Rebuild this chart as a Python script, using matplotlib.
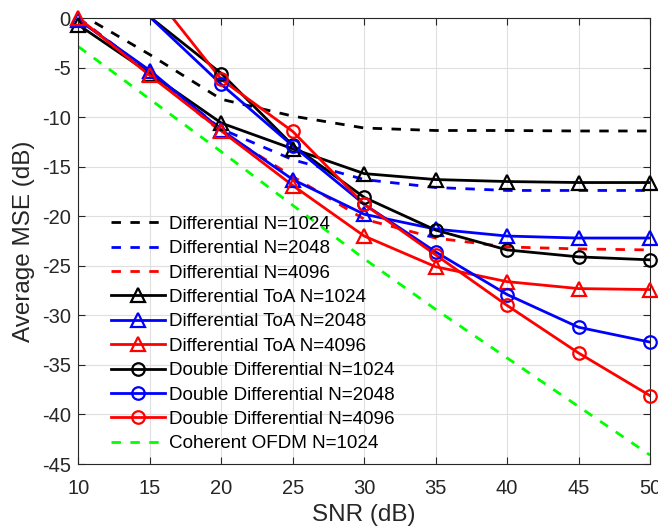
import numpy as np
import matplotlib
matplotlib.use("Agg")
import matplotlib.pyplot as plt

plt.rcParams['font.family'] = ['Liberation Sans', 'DejaVu Sans']
plt.rcParams['axes.unicode_minus'] = False

snr = [10, 15, 20, 25, 30, 35, 40, 45, 50]

diff_1024 = [0.5, -3.7, -8.2, -9.9, -11.1, -11.35, -11.35, -11.4, -11.4]
diff_2048 = [0.0, -5.5, -11.2, -14.3, -16.3, -17.1, -17.4, -17.4, -17.4]
diff_4096 = [0.0, -5.6, -11.5, -16.0, -20.3, -22.2, -23.1, -23.3, -23.4]

toa_1024 = [-0.7, -5.6, -10.6, -13.2, -15.7, -16.3, -16.5, -16.6, -16.6]
toa_2048 = [-0.2, -5.3, -11.3, -16.3, -19.8, -21.3, -22.0, -22.2, -22.2]
toa_4096 = [0.0, -5.8, -11.4, -16.9, -22.0, -25.1, -26.6, -27.3, -27.4]

dd_1024 = [4.0, 0.1, -5.6, -12.85, -18.1, -21.4, -23.4, -24.1, -24.4]
dd_2048 = [4.0, 0.1, -6.7, -12.9, -18.8, -23.6, -27.9, -31.2, -32.7]
dd_4096 = [8.0, 2.9, -6.2, -11.45, -18.8, -23.9, -29.0, -33.8, -38.1]

coh_1024 = [-2.9, -8.2, -13.5, -18.9, -24.3, -29.4, -34.3, -39.2, -44.1]

labels = ['Differential N=1024', 'Differential N=2048', 'Differential N=4096',
          'Differential ToA N=1024', 'Differential ToA N=2048', 'Differential ToA N=4096',
          'Double Differential N=1024', 'Double Differential N=2048', 'Double Differential N=4096',
          'Coherent OFDM N=1024']

xticks = [10, 15, 20, 25, 30, 35, 40, 45, 50]
yticks = [-45, -40, -35, -30, -25, -20, -15, -10, -5, 0]

TXT = '#262626'
fig = plt.figure(figsize=(6.58, 5.28), dpi=100)
ax = fig.add_axes([0.1193, 0.1212, 0.8685, 0.8447])

lw = 2.0
dash = (3.4, 3.4)
series = [
    (diff_1024, 'k', None, True),
    (diff_2048, 'b', None, True),
    (diff_4096, 'r', None, True),
    (toa_1024, 'k', '^', False),
    (toa_2048, 'b', '^', False),
    (toa_4096, 'r', '^', False),
    (dd_1024, 'k', 'o', False),
    (dd_2048, 'b', 'o', False),
    (dd_4096, 'r', 'o', False),
    (coh_1024, '#00ff00', None, True),
]

handles = []
x = np.array(snr, dtype=float)
for (vals, col, mk, dashed), lab in zip(series, labels):
    y = np.array(vals, dtype=float)
    kw = dict(color=col, lw=lw)
    if dashed:
        ax.plot(x, y, linestyle='--', dashes=dash, **kw)
        h, = ax.plot([], [], linestyle='--', dashes=dash, **kw)
    else:
        ax.plot(x, y, linestyle='-', **kw)
        ms = 10 if mk == '^' else 9
        m = (y <= 0) & (y >= -45)
        ax.plot(x[m], y[m], linestyle='none', marker=mk, ms=ms, mfc='none',
                mec=col, mew=1.6, clip_on=False, zorder=3)
        h, = ax.plot([], [], linestyle='-', marker=mk, ms=ms, mfc='none',
                     mec=col, mew=1.6, **kw)
    handles.append(h)

ax.set_xlim(10, 50)
ax.set_ylim(-45, 0)
ax.set_xticks(xticks)
ax.set_yticks(yticks)
ax.grid(True, color='#dfdfdf', lw=0.8)
ax.set_axisbelow(True)
ax.tick_params(direction='in', length=5, width=0.8, top=True, right=True,
               labelsize=14.5, colors=TXT)
ax.tick_params(axis='x', pad=11)
ax.tick_params(axis='y', pad=5.5)
for s in ax.spines.values():
    s.set_color(TXT)
    s.set_linewidth(0.8)
ax.set_xlabel('SNR (dB)', fontsize=17.5, color=TXT, labelpad=4)
ax.set_ylabel('Average MSE (dB)', fontsize=17.5, color=TXT, labelpad=5)

leg = ax.legend(handles, labels, loc='upper left', bbox_to_anchor=(0.057, 0.557),
                frameon=False, fontsize=13.6, handlelength=2.85, handletextpad=0.2,
                labelspacing=0.38, borderpad=0, borderaxespad=0, numpoints=1)
for t in leg.get_texts():
    t.set_color('black')

fig.savefig('out.png', dpi=100)
